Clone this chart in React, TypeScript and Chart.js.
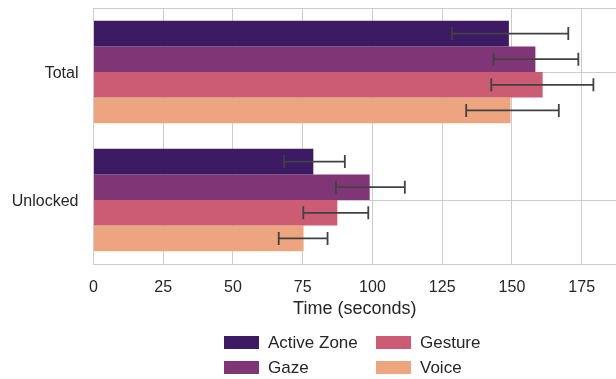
import React, { useEffect, useRef } from "react";
import { Chart, registerables } from "chart.js";

Chart.register(...registerables);

const categories = ["Total", "Unlocked"];
const seriesNames = ["Active Zone", "Gaze", "Gesture", "Voice"];
const seriesColors = ["#3c1b64", "#803577", "#cb5c73", "#eca57f"];

const activeZone = [148.9, 78.8];
const activeZoneLo = [128.5, 68.3];
const activeZoneHi = [170.2, 90.1];

const gaze = [158.4, 99.0];
const gazeLo = [143.4, 86.9];
const gazeHi = [173.8, 111.6];

const gesture = [161.0, 87.4];
const gestureLo = [142.6, 75.2];
const gestureHi = [179.2, 98.5];

const voice = [149.5, 75.3];
const voiceLo = [133.6, 66.4];
const voiceHi = [166.8, 83.9];

const xTicks = [0, 25, 50, 75, 100, 125, 150, 175];
const xMax = 187.3;

const values = [activeZone, gaze, gesture, voice];
const lows = [activeZoneLo, gazeLo, gestureLo, voiceLo];
const highs = [activeZoneHi, gazeHi, gestureHi, voiceHi];

const FONT = "'Liberation Sans', Arial, sans-serif";
const TEXT = "#262626";
const GRID = "#cccccc";

const errorBarPlugin = {
  id: "errorBars",
  afterDatasetsDraw(chart: any) {
    const ctx = chart.ctx;
    const xs = chart.scales.x;
    ctx.save();
    ctx.strokeStyle = "#424242";
    ctx.lineWidth = 1.8;
    chart.data.datasets.forEach((_: any, i: number) => {
      const meta = chart.getDatasetMeta(i);
      meta.data.forEach((bar: any, j: number) => {
        const y = bar.y;
        const x0 = xs.getPixelForValue(lows[i][j]);
        const x1 = xs.getPixelForValue(highs[i][j]);
        const cap = 6.5;
        ctx.beginPath();
        ctx.moveTo(x0, y);
        ctx.lineTo(x1, y);
        ctx.moveTo(x0, y - cap);
        ctx.lineTo(x0, y + cap);
        ctx.moveTo(x1, y - cap);
        ctx.lineTo(x1, y + cap);
        ctx.stroke();
      });
    });
    ctx.restore();
  },
};

const framePlugin = {
  id: "frame",
  beforeDatasetsDraw(chart: any) {
    const { ctx, chartArea } = chart;
    ctx.save();
    ctx.strokeStyle = GRID;
    ctx.lineWidth = 1;
    const t = Math.round(chartArea.top) + 0.5;
    ctx.beginPath();
    ctx.moveTo(chartArea.left, t);
    ctx.lineTo(chartArea.right, t);
    ctx.stroke();
    ctx.restore();
  },
};

const yLabelPlugin = {
  id: "yLabels",
  afterDraw(chart: any) {
    const ctx = chart.ctx;
    const ys = chart.scales.y;
    ctx.save();
    ctx.font = `16px ${FONT}`;
    ctx.fillStyle = TEXT;
    ctx.textAlign = "right";
    ctx.textBaseline = "middle";
    categories.forEach((c, i) => {
      ctx.fillText(c, chart.chartArea.left - 15, ys.getPixelForTick(i) + 2);
    });
    ctx.restore();
  },
};

const legendPlugin = {
  id: "customLegend",
  afterDraw(chart: any) {
    const ctx = chart.ctx;
    const colX = [224, 376];
    const rowY = [336, 361];
    ctx.save();
    ctx.font = `17px ${FONT}`;
    ctx.textBaseline = "middle";
    ctx.textAlign = "left";
    seriesNames.forEach((name, k) => {
      const col = Math.floor(k / 2);
      const row = k % 2;
      const x = colX[col];
      const y = rowY[row];
      ctx.fillStyle = seriesColors[k];
      ctx.fillRect(x, y, 35, 13);
      ctx.fillStyle = TEXT;
      ctx.fillText(name, x + 44, y + 7);
    });
    ctx.restore();
  },
};

export default function App() {
  const ref = useRef<HTMLCanvasElement | null>(null);

  useEffect(() => {
    document.body.style.margin = "0";
    const canvas = ref.current;
    if (!canvas) return;
    const chart = new Chart(canvas, {
      type: "bar",
      data: {
        labels: categories,
        datasets: seriesNames.map((name, i) => ({
          label: name,
          data: values[i],
          backgroundColor: seriesColors[i],
          borderWidth: 0,
          categoryPercentage: 0.8,
          barPercentage: 1.0,
        })),
      },
      options: {
        indexAxis: "y",
        responsive: false,
        animation: false,
        layout: { padding: { top: 8, right: 0, bottom: 55, left: 0 } },
        plugins: {
          legend: { display: false },
          tooltip: { enabled: false },
        },
        scales: {
          x: {
            type: "linear",
            min: 0,
            max: xMax,
            afterBuildTicks: (scale: any) => {
              scale.ticks = xTicks.map((v) => ({ value: v }));
            },
            afterFit: (scale: any) => {
              scale.height = 60;
              scale.paddingRight = 0;
            },
            grid: { color: GRID, lineWidth: 1, drawTicks: false },
            border: { color: GRID, width: 1 },
            ticks: {
              padding: 14,
              color: TEXT,
              font: { family: FONT, size: 16 },
            },
            title: {
              display: true,
              text: "Time (seconds)",
              color: TEXT,
              font: { family: FONT, size: 18 },
              padding: { top: 0, bottom: 4 },
            },
          },
          y: {
            type: "category",
            offset: true,
            afterFit: (scale: any) => {
              scale.width = 93.5;
              scale.paddingTop = 0;
              scale.paddingBottom = 0;
            },
            grid: { color: GRID, lineWidth: 1, drawTicks: false, offset: false },
            border: { color: GRID, width: 1 },
            ticks: { display: false },
          },
        },
      },
      plugins: [framePlugin, errorBarPlugin, yLabelPlugin, legendPlugin],
    } as any);
    return () => chart.destroy();
  }, []);

  return (
    <div style={{ width: 616, height: 379 }}>
      <canvas ref={ref} width={616} height={379} />
    </div>
  );
}
